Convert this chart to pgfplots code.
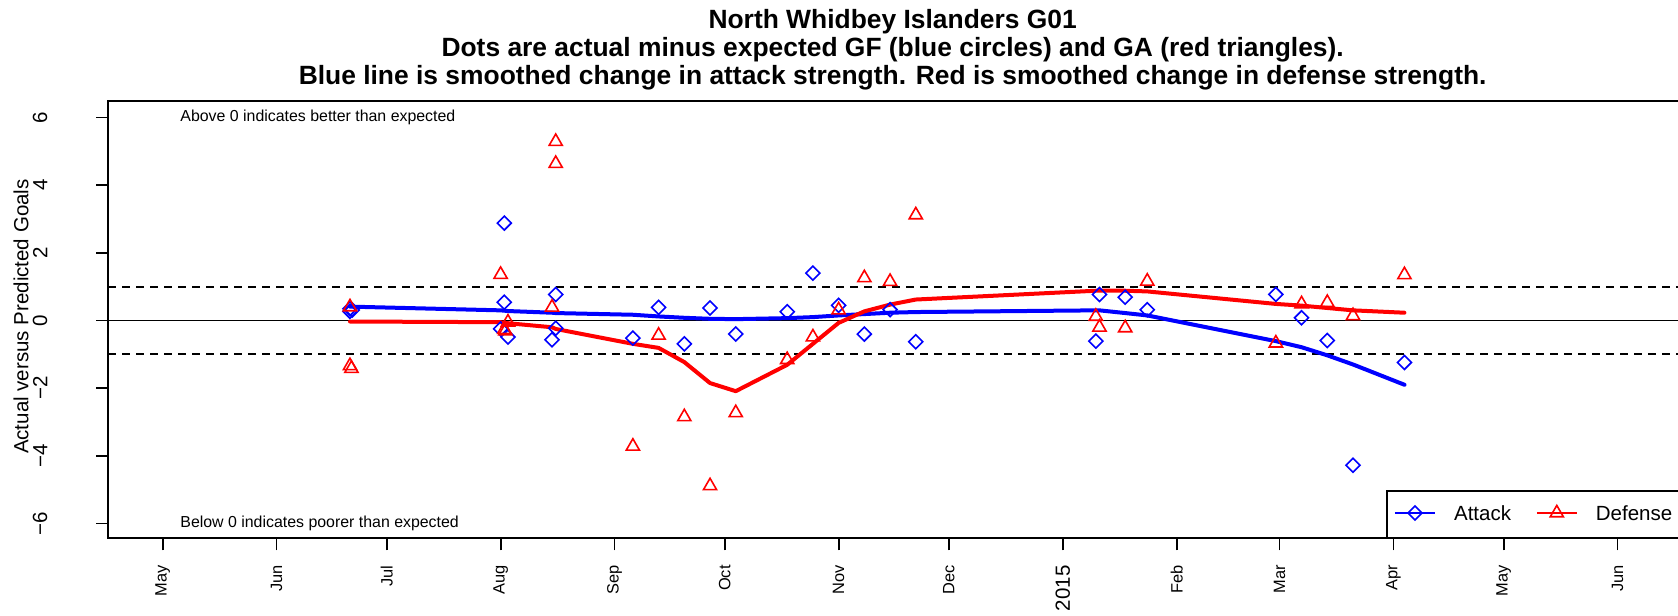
\documentclass[border=0pt]{standalone}
\usepackage{fontspec}
\setmainfont{Liberation Sans}
\usepackage{pgfplots}
\usepackage{pgfplotstable}
\pgfplotsset{compat=1.18}
\definecolor{rblue}{RGB}{0,0,255}
\definecolor{rred}{RGB}{255,0,0}

% days since 2014-05-01
\pgfplotstableread{
day v
51 0.35
51 0.27
51.6 0.31
92 -0.25
93 2.88
93 0.54
94 -0.49
106 -0.57
107 0.77
107 -0.23
128 -0.52
135 0.39
142 -0.69
149 0.37
156 -0.40
170 0.26
177 1.40
184 0.45
191 -0.40
198 0.32
205 -0.63
254 -0.61
255 0.77
262 0.69
268 0.32
303 0.77
310 0.08
317 -0.59
324 -4.28
338 -1.24
}\attackpts

\pgfplotstableread{
day v
51 0.40
51 -1.34
51.4 -1.42
92 1.36
93 -0.27
93.3 -0.31
94 -0.05
106 0.39
107 5.29
107 4.64
128 -3.72
135 -0.44
142 -2.85
149 -4.89
156 -2.73
170 -1.16
177 -0.49
184 0.31
191 1.26
198 1.15
205 3.12
254 0.12
255 -0.20
262 -0.22
268 1.16
303 -0.67
310 0.49
317 0.53
324 0.14
338 1.35
}\defensepts

\pgfplotstableread{
day v
51 0.41
92 0.30
93 0.29
94 0.28
106 0.23
107 0.22
128 0.17
135 0.12
142 0.08
149 0.05
156 0.04
170 0.07
177 0.10
184 0.15
191 0.19
198 0.23
205 0.25
254 0.30
255 0.30
262 0.22
268 0.15
303 -0.61
310 -0.79
317 -1.03
324 -1.30
338 -1.90
}\attackline

\pgfplotstableread{
day v
51 -0.03
92 -0.05
93 -0.07
94 -0.08
106 -0.20
107 -0.25
128 -0.69
135 -0.81
142 -1.23
149 -1.85
156 -2.09
170 -1.31
177 -0.69
184 -0.07
191 0.27
198 0.47
205 0.62
254 0.88
255 0.88
262 0.88
268 0.86
303 0.49
310 0.44
317 0.37
324 0.30
338 0.23
}\defenseline

\newcommand{\basefont}{\fontsize{10.25}{12}\selectfont}
\newcommand{\titlefont}{\fontsize{13.2}{16}\selectfont\bfseries}

\begin{document}
\begin{tikzpicture}
\begin{axis}[
  name=ax,
  scale only axis,
  width=785.85pt, height=218.65pt,
  xmin=-14.78, xmax=413.0,
  ymin=-6.44, ymax=6.49,
  axis line style={line width=0.9pt},
  tick align=outside,
  major tick length=6pt,
  every tick/.style={black, line width=0.9pt},
  xtick pos=bottom, ytick pos=left,
  xtick={0,31,61,92,123,153,184,214,245,276,304,335,365,396},
  xticklabels={May,Jun,Jul,Aug,Sep,Oct,Nov,Dec,{\basefont 2015},Feb,Mar,Apr,May,Jun},
  ytick={-6,-4,-2,0,2,4,6},
  yticklabels={−6,−4,−2,0,2,4,6},
  minor tick num=0,
  xticklabel style={rotate=90, anchor=east, inner sep=0pt, font=\fontsize{8.2}{9}\selectfont},
  yticklabel style={rotate=90, anchor=south, inner sep=0pt, font=\basefont},
  xticklabel shift=7.35pt,
  yticklabel shift=24.3pt,
  legend image code/.code={\draw[mark repeat=2,mark phase=2,#1] plot coordinates {(0pt,3.7pt) (10pt,3.7pt) (20pt,3.7pt)};},
  legend style={at={(1,0)}, anchor=south east, draw=black, line width=0.9pt, fill=white,
    legend columns=2, inner xsep=3.4pt, inner ysep=7pt, font=\basefont,
    nodes={inner sep=0pt, anchor=base west},
    /tikz/every odd column/.append style={column sep=9.2pt},
    /tikz/every even column/.append style={column sep=12.5pt}},
  legend cell align=left,
]
% reference lines
\addplot[black, line width=0.85pt, forget plot] coordinates {(-14.78,0) (413.0,0)};
\addplot[black, line width=1pt, dash pattern=on 4pt off 3pt, forget plot] coordinates {(-14.78,1) (413.0,1)};
\addplot[black, line width=1pt, dash pattern=on 4pt off 3pt, forget plot] coordinates {(-14.78,-1) (413.0,-1)};
% points
\addplot[only marks, mark=square, mark size=2.47pt, mark options={rotate=45, draw=rblue, line width=0.8pt}, forget plot] table[x=day, y=v] {\attackpts};
\addplot[only marks, mark=triangle, mark size=3.8pt, mark options={draw=rred, line width=0.8pt}, forget plot] table[x=day, y=v] {\defensepts};
% smoothed lines
\addplot[rblue, line width=2pt, line join=round, line cap=round, no marks, forget plot] table[x=day, y=v] {\attackline};
\addplot[rred, line width=2pt, line join=round, line cap=round, no marks, forget plot] table[x=day, y=v] {\defenseline};
% legend
\addlegendimage{rblue, line width=0.75pt, mark=square, mark size=2.47pt, mark options={rotate=45, solid, line width=0.8pt}}
\addlegendentry{Attack}
\addlegendimage{rred, line width=0.75pt, mark=triangle, mark size=3.8pt, mark options={solid, line width=0.8pt}}
\addlegendentry{Defense}
% annotations
\node[anchor=west, inner sep=0pt, font=\fontsize{7.95}{9}\selectfont] at (axis cs:4.74,6) {Above 0 indicates better than expected};
\node[anchor=west, inner sep=0pt, font=\fontsize{7.95}{9}\selectfont] at (axis cs:4.74,-6) {Below 0 indicates poorer than expected};
\end{axis}
\node[anchor=base, font=\titlefont] at ([xshift=-0.75pt, yshift=36.5pt]ax.north) {North Whidbey Islanders G01};
\node[anchor=base, font=\titlefont] at ([xshift=-0.75pt, yshift=22.5pt]ax.north) {Dots are actual minus expected GF (blue circles) and GA (red triangles).};
\node[anchor=base, font=\titlefont] at ([xshift=-0.75pt, yshift=8.5pt]ax.north) {Blue line is smoothed change in attack strength. Red is smoothed change in defense strength.};
\node[rotate=90, anchor=base, font=\basefont] at ([xshift=-40pt, yshift=1.5pt]ax.west) {Actual versus Predicted Goals};
\pgfresetboundingbox
\path[use as bounding box] ([xshift=-54.15pt, yshift=-38.85pt]ax.south west) rectangle ++(839pt,308pt);
\end{tikzpicture}
\end{document}
